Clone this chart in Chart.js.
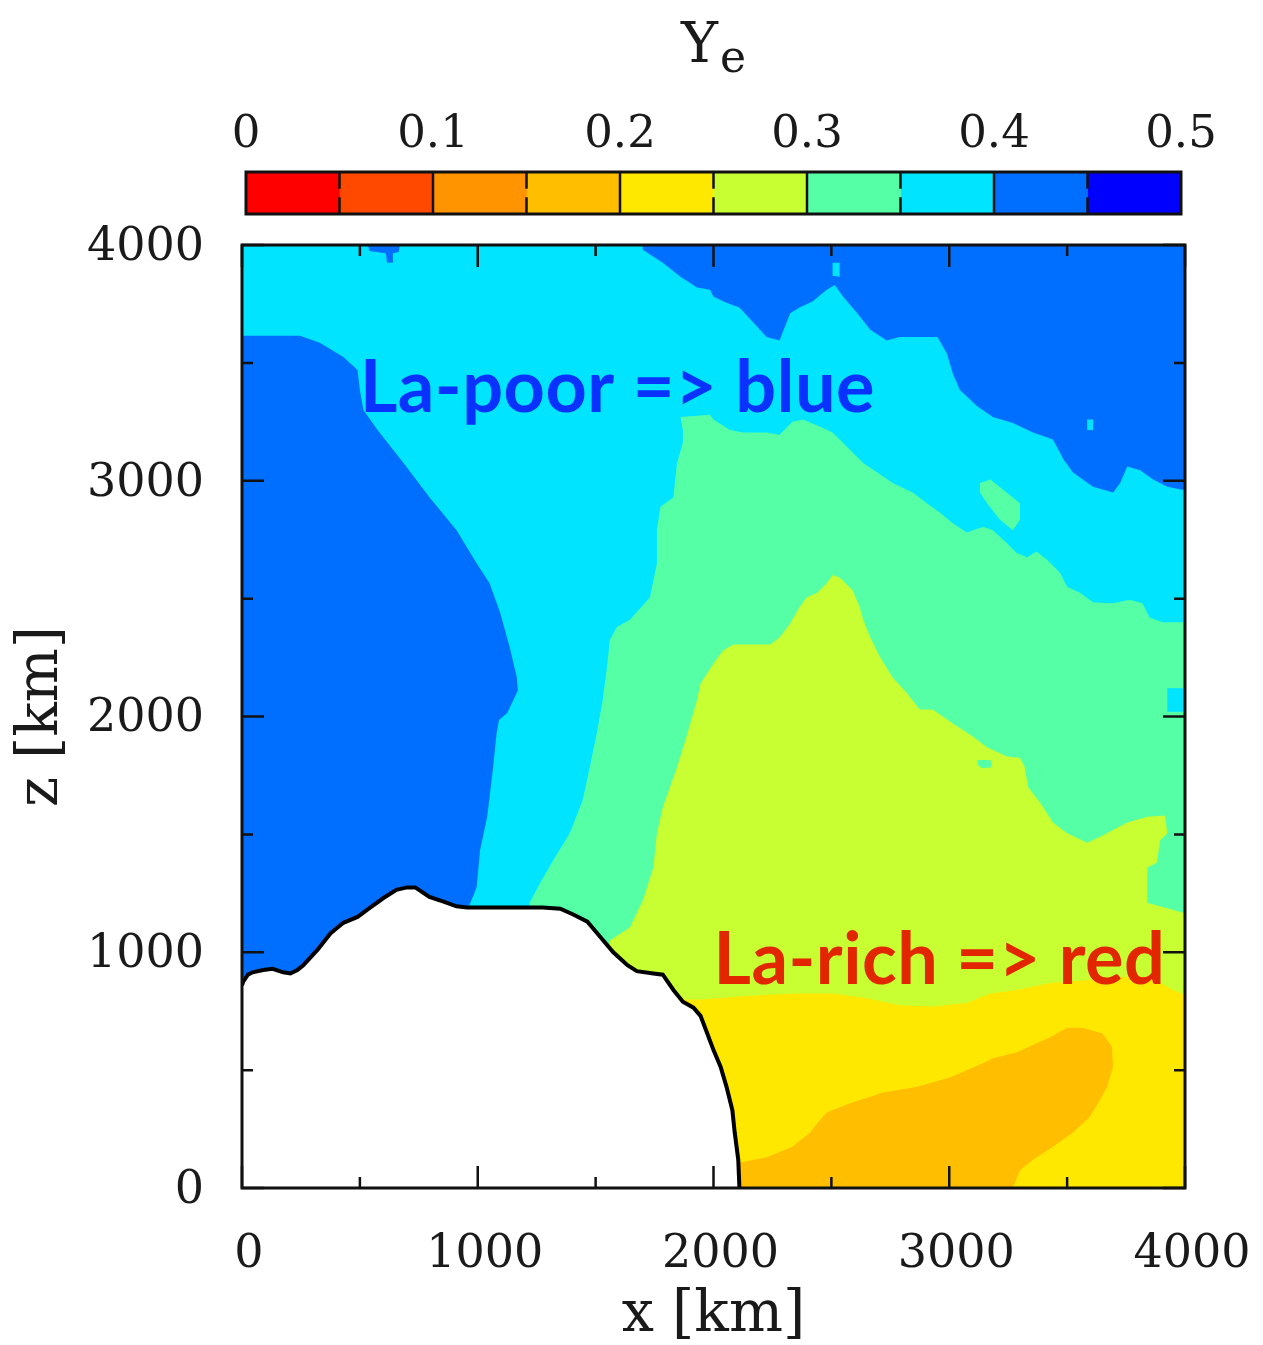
<!DOCTYPE html>
<html>
<head>
<meta charset="utf-8">
<script src="https://cdn.jsdelivr.net/npm/chart.js@4.4.1/dist/chart.umd.min.js"></script>
<style>
  html, body { margin: 0; padding: 0; background: #fff; }
  #wrap { position: relative; width: 1263px; height: 1345px; }
  #wrap canvas { position: absolute; left: 0; top: 0; }
</style>
</head>
<body>
<div id="wrap">
  <canvas id="mapChart" width="1263" height="1345"></canvas>
  <canvas id="barChart" width="1263" height="230"></canvas>
</div>
<script>
const SERIF = '"DejaVu Serif", serif';

// Ye colour bands (0.05 wide)
const bandEdges = [0, 0.05, 0.1, 0.15, 0.2, 0.25, 0.3, 0.35, 0.4, 0.45, 0.5];
const bandColors = ['#ff0000', '#ff4800', '#ff9400', '#ffbe00', '#ffe800',
                    '#c8ff33', '#55ffa6', '#00e4ff', '#006fff', '#0000ff'];
const barTickLabels = ['0', '0.1', '0.2', '0.3', '0.4', '0.5'];

const xTickLabels = ['0', '1000', '2000', '3000', '4000'];
const zTickLabels = ['0', '1000', '2000', '3000', '4000'];
const minorTicks = [500, 1500, 2500, 3500];

// contour regions, [x, z] in km
const domain = [[0, 0], [4000, 0], [4000, 4000], [0, 4000]];

const leftBlue = [[0, 3615], [246, 3615], [330, 3585], [430, 3525], [490, 3470], [500, 3385], [515, 3300],
  [575, 3215], [685, 3075], [795, 2930], [910, 2790], [995, 2650], [1050, 2565], [1095, 2440], [1135, 2295],
  [1165, 2170], [1170, 2110], [1125, 2015], [1090, 1985], [1080, 1930], [1065, 1785], [1040, 1575],
  [1010, 1435], [995, 1275], [965, 1200], [965, 0], [0, 0]];

const topLeftBlue = [[535, 4000], [670, 4000], [665, 3970], [640, 3965], [640, 3925], [615, 3925], [610, 3965], [540, 3975]];

const topRightBlue = [[1700, 4000], [1700, 3980], [1785, 3925], [1860, 3865], [1930, 3820], [1985, 3810],
  [2000, 3780], [2055, 3755], [2110, 3735], [2170, 3670], [2225, 3610], [2280, 3595], [2325, 3710],
  [2365, 3735], [2420, 3760], [2480, 3810], [2515, 3830], [2550, 3780], [2610, 3710], [2665, 3640],
  [2735, 3595], [2790, 3610], [2950, 3610], [2990, 3540], [3015, 3455], [3045, 3385], [3120, 3315],
  [3185, 3270], [3270, 3245], [3355, 3205], [3440, 3175], [3485, 3090], [3525, 3035], [3610, 2975],
  [3695, 2950], [3725, 2990], [3755, 3060], [3810, 3045], [3865, 3005], [3925, 2975], [4000, 2960], [4000, 4000]];

const cyanSpeckA = [[2505, 3925], [2535, 3925], [2535, 3865], [2505, 3870]];
const cyanSpeckB = [[3585, 3260], [3610, 3260], [3610, 3215], [3585, 3215]];

const greenZone = [[1985, 3280], [1860, 3270], [1870, 3215], [1870, 3160], [1845, 3075], [1830, 2930],
  [1775, 2890], [1760, 2790], [1760, 2650], [1730, 2505], [1645, 2410], [1590, 2380], [1560, 2325],
  [1550, 2225], [1530, 2070], [1505, 1930], [1475, 1785], [1445, 1645], [1390, 1505], [1320, 1390],
  [1265, 1295], [1220, 1210], [1220, 0], [4000, 0], [4000, 2400], [3905, 2400], [3850, 2420], [3820, 2480],
  [3765, 2495], [3695, 2480], [3610, 2485], [3555, 2525], [3500, 2550], [3470, 2610], [3415, 2665],
  [3370, 2700], [3330, 2675], [3285, 2695], [3245, 2735], [3185, 2790], [3145, 2805], [3100, 2790],
  [3075, 2780], [3015, 2820], [2960, 2865], [2905, 2905], [2845, 2950], [2760, 2990], [2695, 3035],
  [2635, 3075], [2590, 3120], [2550, 3160], [2505, 3205], [2450, 3230], [2380, 3260], [2335, 3250],
  [2280, 3195], [2225, 3205], [2125, 3205], [2070, 3215], [2000, 3260]];

const greenIsland = [[3130, 2990], [3175, 3005], [3300, 2905], [3300, 2835], [3270, 2790], [3215, 2835], [3160, 2905], [3130, 2950]];
const cyanEdge = [[3925, 2120], [4000, 2120], [4000, 2020], [3925, 2020]];

const yellowGreenZone = [[1560, 1050], [1645, 1105], [1700, 1220], [1745, 1360], [1760, 1505], [1785, 1615],
  [1845, 1785], [1890, 1930], [1930, 2070], [1945, 2140], [2000, 2225], [2040, 2280], [2085, 2305],
  [2240, 2305], [2280, 2335], [2325, 2395], [2365, 2465], [2395, 2505], [2440, 2525], [2480, 2565],
  [2505, 2600], [2535, 2590], [2590, 2535], [2620, 2465], [2635, 2410], [2665, 2335], [2705, 2255],
  [2760, 2165], [2820, 2100], [2875, 2030], [2930, 2030], [3015, 1970], [3100, 1915], [3160, 1870],
  [3245, 1830], [3300, 1825], [3320, 1785], [3335, 1700], [3385, 1635], [3440, 1550], [3500, 1505],
  [3585, 1465], [3640, 1490], [3755, 1550], [3840, 1575], [3915, 1580], [3925, 1505], [3895, 1475],
  [3880, 1380], [3840, 1360], [3840, 1210], [4000, 1165], [4000, 0], [1560, 0]];

const greenSpeck = [[3120, 1815], [3175, 1815], [3180, 1785], [3140, 1780], [3120, 1795]];

const yellowZone = [[1860, 800], [1945, 800], [2085, 810], [2225, 820], [2365, 825], [2505, 825], [2650, 805],
  [2790, 775], [2930, 770], [3075, 785], [3175, 825], [3285, 840], [3430, 870], [3565, 880], [3710, 895],
  [3850, 895], [3950, 840], [4000, 820], [4000, 0], [1860, 0]];

const orangeZone = [[2050, 0], [2050, 110], [2125, 110], [2225, 130], [2335, 175], [2410, 235], [2440, 275],
  [2480, 320], [2580, 360], [2720, 405], [2865, 430], [3005, 470], [3145, 530], [3185, 550], [3285, 575],
  [3430, 640], [3500, 680], [3565, 680], [3650, 655], [3690, 600], [3695, 515], [3670, 430], [3640, 375],
  [3595, 300], [3525, 235], [3440, 175], [3355, 120], [3300, 75], [3270, 0]];

// edge of the excised inner region
const excisionEdge = [[0, 860], [5, 875], [25, 905], [45, 915], [90, 925], [130, 930], [175, 915], [205, 910],
  [235, 925], [260, 945], [320, 1010], [375, 1080], [430, 1125], [490, 1150], [545, 1190], [600, 1230],
  [655, 1265], [700, 1275], [735, 1275], [795, 1235], [855, 1215], [910, 1195], [955, 1190], [1275, 1190],
  [1350, 1185], [1405, 1160], [1465, 1130], [1520, 1065], [1575, 1000], [1635, 945], [1675, 920],
  [1745, 910], [1785, 905], [1830, 840], [1870, 790], [1915, 765], [1945, 730], [1970, 665], [2000, 585],
  [2030, 515], [2055, 430], [2080, 330], [2090, 235], [2105, 120], [2110, 0]];
const excisionBase = [[0, 0]];

const noteTexts = ['La-poor => blue', 'La-rich => red'];
const noteColors = ['#0a32ff', '#e12600'];
const noteAnchors = [[500, 3290], [2000, 865]];

const toXY = pts => pts.map(([x, y]) => ({ x, y }));

// fill order: later layers on top
const layers = [
  [domain, 7], [leftBlue, 8], [topRightBlue, 8], [topLeftBlue, 8], [cyanSpeckA, 7], [cyanSpeckB, 7],
  [greenZone, 6], [greenIsland, 6], [cyanEdge, 7], [yellowGreenZone, 5], [greenSpeck, 6],
  [yellowZone, 4], [orangeZone, 3]
];

const datasets = layers.map(([pts, band]) => ({
  data: toXY(pts),
  fillColor: bandColors[band],
  pointRadius: 0,
  showLine: false
}));
datasets.push({
  data: toXY(excisionEdge.concat(excisionBase)),
  fillColor: '#ffffff',
  pointRadius: 0,
  showLine: false
});
datasets.push({
  data: toXY(excisionEdge),
  showLine: true,
  borderColor: '#000',
  borderWidth: 4,
  pointRadius: 0,
  tension: 0
});

// polygons filled from the points the scales placed
const regionFill = {
  id: 'regionFill',
  beforeDatasetsDraw(chart) {
    const { ctx, chartArea: a } = chart;
    ctx.save();
    ctx.beginPath();
    ctx.rect(a.left, a.top, a.width, a.height);
    ctx.clip();
    chart.data.datasets.forEach((ds, i) => {
      if (!ds.fillColor) return;
      const pts = chart.getDatasetMeta(i).data;
      ctx.beginPath();
      pts.forEach((p, k) => (k ? ctx.lineTo(p.x, p.y) : ctx.moveTo(p.x, p.y)));
      ctx.closePath();
      ctx.fillStyle = ds.fillColor;
      ctx.fill();
    });
    ctx.restore();
  }
};

// inward ticks on all four sides, frame and the two labels
const frameTicks = {
  id: 'frameTicks',
  afterDatasetsDraw(chart) {
    const { ctx, chartArea: a, scales: { x, y } } = chart;
    ctx.save();
    ctx.strokeStyle = '#111';
    ctx.lineWidth = 2.5;
    const mark = (vals, len) => {
      vals.forEach(v => {
        const px = x.getPixelForValue(v);
        const py = y.getPixelForValue(v);
        ctx.beginPath();
        ctx.moveTo(px, a.bottom); ctx.lineTo(px, a.bottom - len);
        ctx.moveTo(px, a.top); ctx.lineTo(px, a.top + len);
        ctx.moveTo(a.left, py); ctx.lineTo(a.left + len, py);
        ctx.moveTo(a.right, py); ctx.lineTo(a.right - len, py);
        ctx.stroke();
      });
    };
    mark(x.ticks.map(t => t.value), 22);
    mark(minorTicks, 11);
    ctx.lineWidth = 3;
    ctx.strokeRect(a.left, a.top, a.width, a.height);

    ctx.font = 'bold 72px Lato, "Open Sans", sans-serif';
    ctx.letterSpacing = '0.5px';
    ctx.textAlign = 'left';
    ctx.textBaseline = 'alphabetic';
    noteTexts.forEach((t, i) => {
      ctx.fillStyle = noteColors[i];
      ctx.fillText(t, x.getPixelForValue(noteAnchors[i][0]), y.getPixelForValue(noteAnchors[i][1]));
    });
    ctx.restore();
  }
};

new Chart(document.getElementById('mapChart'), {
  type: 'scatter',
  data: { datasets },
  options: {
    responsive: false,
    animation: false,
    events: [],
    layout: { padding: { left: 0, top: 245, right: 78, bottom: 0 }, autoPadding: false },
    plugins: { legend: { display: false }, tooltip: { enabled: false } },
    scales: {
      x: {
        type: 'linear', min: 0, max: 4000,
        grid: { display: false, drawTicks: false },
        border: { display: false },
        ticks: {
          stepSize: 1000, padding: 0, labelOffset: 7, color: '#1a1a1a',
          font: { family: SERIF, size: 46, lineHeight: 2.9 },
          callback: (v, i) => xTickLabels[i]
        },
        title: {
          display: true, text: 'x [km]', color: '#1a1a1a',
          font: { family: SERIF, size: 57, lineHeight: 1 },
          padding: { top: 0, bottom: 0 }
        },
        afterFit: s => { s.height = 157; }
      },
      y: {
        type: 'linear', min: 0, max: 4000,
        grid: { display: false, drawTicks: false },
        border: { display: false },
        ticks: {
          stepSize: 1000, padding: 38, labelOffset: 3, color: '#1a1a1a',
          font: { family: SERIF, size: 46, lineHeight: 1 },
          callback: (v, i) => zTickLabels[i]
        },
        title: {
          display: true, text: 'z [km]', color: '#1a1a1a',
          font: { family: SERIF, size: 57, lineHeight: 1 },
          padding: { top: 14, bottom: 0 }
        },
        afterFit: s => { s.width = 242; }
      }
    }
  },
  plugins: [regionFill, frameTicks]
});

// colour bar: band separators, frame and the Ye title
const barFrame = {
  id: 'barFrame',
  afterDatasetsDraw(chart) {
    const { ctx, chartArea: a, scales: { x } } = chart;
    ctx.save();
    ctx.strokeStyle = '#111';
    ctx.lineWidth = 2.5;
    bandEdges.slice(1, -1).forEach((v, i) => {
      const px = x.getPixelForValue(v);
      const len = i % 2 === 1 ? a.height : a.height * 0.4;
      ctx.beginPath();
      ctx.moveTo(px, a.top); ctx.lineTo(px, a.top + len);
      ctx.moveTo(px, a.bottom); ctx.lineTo(px, a.bottom - len);
      ctx.stroke();
    });
    ctx.lineWidth = 3;
    ctx.strokeRect(a.left, a.top, a.width, a.height);

    ctx.fillStyle = '#1a1a1a';
    ctx.textBaseline = 'alphabetic';
    ctx.textAlign = 'left';
    ctx.font = `56px ${SERIF}`;
    const wY = ctx.measureText('Y').width;
    ctx.font = `44px ${SERIF}`;
    const wE = ctx.measureText('e').width;
    const x0 = (a.left + a.right) / 2 - (wY + wE + 2) / 2;
    ctx.font = `56px ${SERIF}`;
    ctx.fillText('Y', x0, 62);
    ctx.font = `44px ${SERIF}`;
    ctx.fillText('e', x0 + wY + 2, 72);
    ctx.restore();
  }
};

new Chart(document.getElementById('barChart'), {
  type: 'bar',
  data: {
    labels: ['Ye'],
    datasets: bandColors.map((c, i) => ({
      data: [[bandEdges[i], bandEdges[i + 1]]],
      backgroundColor: c,
      borderWidth: 0,
      grouped: false,
      barPercentage: 1,
      categoryPercentage: 1
    }))
  },
  options: {
    indexAxis: 'y',
    responsive: false,
    animation: false,
    events: [],
    layout: { padding: { left: 246, right: 82, top: 0, bottom: 16 }, autoPadding: false },
    plugins: { legend: { display: false }, tooltip: { enabled: false } },
    scales: {
      x: {
        position: 'top', min: 0, max: 0.5,
        grid: { display: false, drawTicks: false },
        border: { display: false },
        ticks: {
          stepSize: 0.1, padding: 14, color: '#1a1a1a',
          font: { family: SERIF, size: 45, lineHeight: 1 },
          callback: (v, i) => barTickLabels[i]
        },
        afterFit: s => { s.height = 172; }
      },
      y: { display: false }
    }
  },
  plugins: [barFrame]
});
</script>
</body>
</html>
